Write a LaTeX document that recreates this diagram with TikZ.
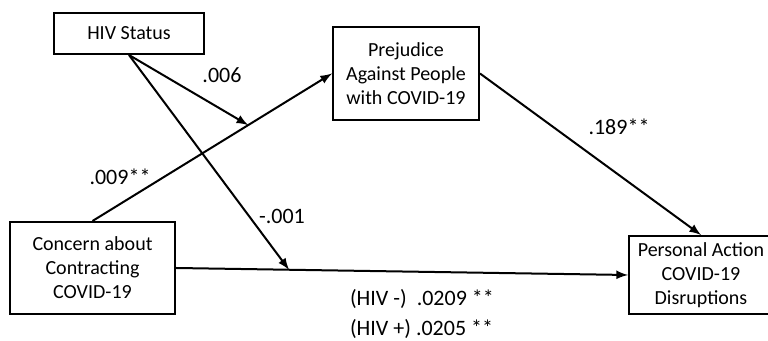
\documentclass[tikz,border=0pt]{standalone}
\usepackage{fontspec}
\setmainfont{Carlito}
\usepackage{tikz}
\usetikzlibrary{arrows, positioning, calc}

\begin{document}
\begin{tikzpicture}[
    x=0.5pt, y=-0.5pt,
    block/.style={rectangle, draw, line width=1pt, text centered, inner sep=2pt},
    arrow/.style={line width=1pt,->,>=latex},
    coef/.style={font=\fontsize{11}{13}\selectfont}
]
\useasboundingbox (0,0) rectangle (768,341);

\node[block, minimum width=75pt, minimum height=20.5pt] (hiv) at (129,33.5) {HIV Status};
\node[block, minimum width=73pt, minimum height=46.5pt, align=center] (prej) at (406,73.5) {Prejudice\\Against People\\with COVID-19};
\node[block, minimum width=82.5pt, minimum height=46pt, align=center] (concern) at (92.5,268) {Concern about\\Contracting\\COVID-19};
\node[block, minimum width=72pt, minimum height=39pt, align=center] (action) at (701,275) {Personal Action\\COVID-19\\Disruptions};

\draw[arrow] (concern.north) -- coordinate[pos=0.65] (mod1) (prej.west);
\draw[arrow] (concern.east) -- coordinate[pos=0.25] (mod2) (action.west);
\draw[arrow] (prej.east) -- (action.north);
\draw[arrow] (hiv.south) -- (mod1);
\draw[arrow] (hiv.south) -- (mod2);

\node[coef] (c006) at (222,75) {.006};
\node[coef] (c009) at (120,177) {.009**};
\node[coef] (c001) at (282,216) {-.001};
\node[coef] (c189) at (619,127) {.189**};
\node[coef, anchor=west] (cneg) at (343,299) {(HIV -)\ \ .0209 **};
\node[coef, anchor=west] (cpos) at (343,329) {(HIV +) .0205 **};

\end{tikzpicture}
\end{document}
